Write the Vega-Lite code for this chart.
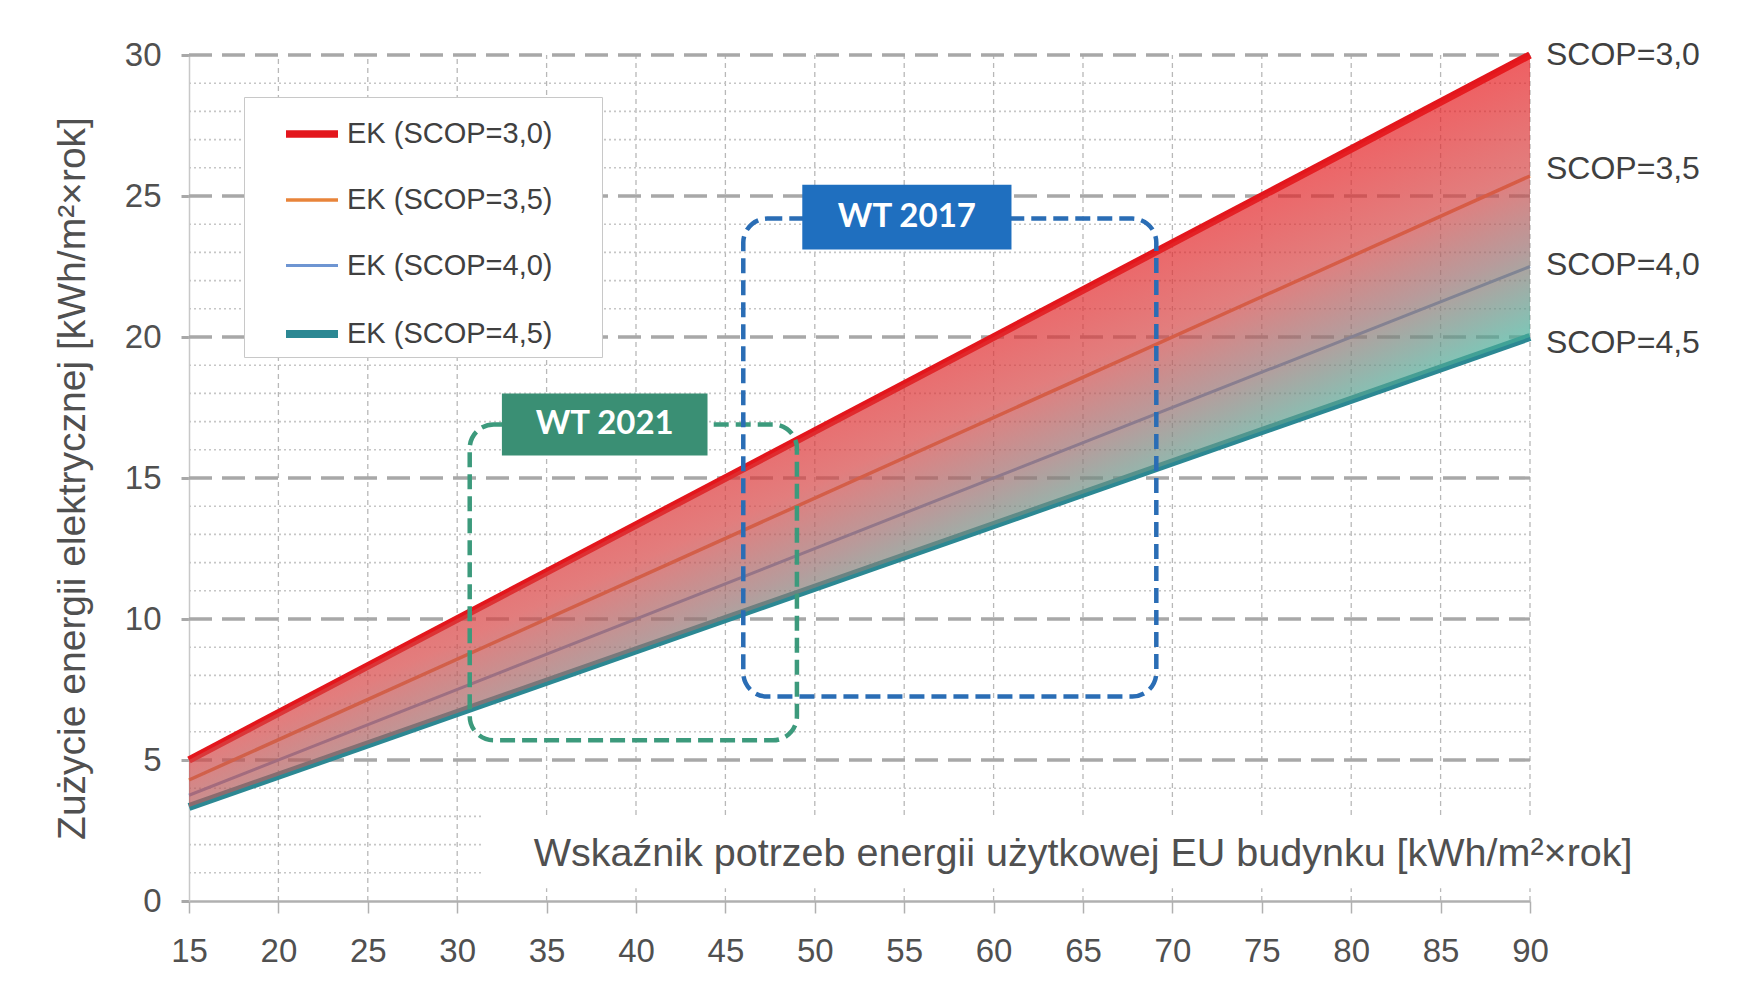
{
  "$schema": "https://vega.github.io/schema/vega-lite/v6.json",
  "width": 1341,
  "height": 846,
  "autosize": {"type": "none"},
  "padding": {"left": 189, "top": 55, "right": 230, "bottom": 89},
  "background": "white",
  "datasets": {
    "vgrid": [
      {"x": 20, "y1": 0, "y2": 30}, {"x": 25, "y1": 0, "y2": 30}, {"x": 30, "y1": 0, "y2": 30},
      {"x": 35, "y1": 3.05, "y2": 30}, {"x": 40, "y1": 3.05, "y2": 30}, {"x": 45, "y1": 3.05, "y2": 30},
      {"x": 50, "y1": 3.05, "y2": 30}, {"x": 55, "y1": 3.05, "y2": 30}, {"x": 60, "y1": 3.05, "y2": 30},
      {"x": 65, "y1": 3.05, "y2": 30}, {"x": 70, "y1": 3.05, "y2": 30}, {"x": 75, "y1": 3.05, "y2": 30},
      {"x": 80, "y1": 3.05, "y2": 30}, {"x": 85, "y1": 3.05, "y2": 30}, {"x": 90, "y1": 3.05, "y2": 30},
      {"x": 35, "y1": 0, "y2": 0.45}, {"x": 40, "y1": 0, "y2": 0.45}, {"x": 45, "y1": 0, "y2": 0.45},
      {"x": 50, "y1": 0, "y2": 0.45}, {"x": 55, "y1": 0, "y2": 0.45}, {"x": 60, "y1": 0, "y2": 0.45},
      {"x": 65, "y1": 0, "y2": 0.45}, {"x": 70, "y1": 0, "y2": 0.45}, {"x": 75, "y1": 0, "y2": 0.45},
      {"x": 80, "y1": 0, "y2": 0.45}, {"x": 85, "y1": 0, "y2": 0.45}, {"x": 90, "y1": 0, "y2": 0.45}
    ],
    "hminor": [
      {"y": 1, "x1": 15, "x2": 31.4}, {"y": 2, "x1": 15, "x2": 31.4}, {"y": 3, "x1": 15, "x2": 31.4},
      {"y": 4, "x1": 15, "x2": 90}, {"y": 6, "x1": 15, "x2": 90}, {"y": 7, "x1": 15, "x2": 90},
      {"y": 8, "x1": 15, "x2": 90}, {"y": 9, "x1": 15, "x2": 90}, {"y": 11, "x1": 15, "x2": 90},
      {"y": 12, "x1": 15, "x2": 90}, {"y": 13, "x1": 15, "x2": 90}, {"y": 14, "x1": 15, "x2": 90},
      {"y": 16, "x1": 15, "x2": 90}, {"y": 17, "x1": 15, "x2": 90}, {"y": 18, "x1": 15, "x2": 90},
      {"y": 19, "x1": 15, "x2": 90}, {"y": 21, "x1": 15, "x2": 90}, {"y": 22, "x1": 15, "x2": 90},
      {"y": 23, "x1": 15, "x2": 90}, {"y": 24, "x1": 15, "x2": 90}, {"y": 26, "x1": 15, "x2": 90},
      {"y": 27, "x1": 15, "x2": 90}, {"y": 28, "x1": 15, "x2": 90}, {"y": 29, "x1": 15, "x2": 90}
    ],
    "hmajor": [
      {"y": 5, "x1": 15, "x2": 90}, {"y": 10, "x1": 15, "x2": 90}, {"y": 15, "x1": 15, "x2": 90},
      {"y": 20, "x1": 15, "x2": 90}, {"y": 25, "x1": 15, "x2": 90}, {"y": 30, "x1": 15, "x2": 90}
    ],
    "lines": [
      {"series": "EK (SCOP=3,0)", "x": 15, "y": 5}, {"series": "EK (SCOP=3,0)", "x": 90, "y": 30},
      {"series": "EK (SCOP=3,5)", "x": 15, "y": 4.29}, {"series": "EK (SCOP=3,5)", "x": 90, "y": 25.71},
      {"series": "EK (SCOP=4,0)", "x": 15, "y": 3.75}, {"series": "EK (SCOP=4,0)", "x": 90, "y": 22.5},
      {"series": "EK (SCOP=4,5)", "x": 15, "y": 3.33}, {"series": "EK (SCOP=4,5)", "x": 90, "y": 20}
    ],
    "band": [
      {"x": 15, "top": 5, "bottom": 3.33},
      {"x": 90, "top": 30, "bottom": 20}
    ],
    "boxes": [
      {"name": "WT 2021", "x1": 30.7, "x2": 49.0, "y1": 5.7, "y2": 16.9},
      {"name": "WT 2017", "x1": 46.0, "x2": 69.1, "y1": 7.25, "y2": 24.2}
    ],
    "tags": [
      {"name": "WT 2021", "x1": 32.5, "x2": 44.0, "y1": 15.8, "y2": 18.0, "xm": 38.25, "ym": 16.9},
      {"name": "WT 2017", "x1": 49.3, "x2": 61.0, "y1": 23.1, "y2": 25.4, "xm": 55.15, "ym": 24.25}
    ],
    "ends": [
      {"label": "SCOP=3,0", "x": 90, "y": 30},
      {"label": "SCOP=3,5", "x": 90, "y": 25.95},
      {"label": "SCOP=4,0", "x": 90, "y": 22.55},
      {"label": "SCOP=4,5", "x": 90, "y": 19.8}
    ]
  },
  "layer": [
    {
      "data": {"name": "vgrid"},
      "mark": {"type": "rule", "color": "#b8b8b8", "strokeWidth": 1.3, "strokeDash": [5, 4]},
      "encoding": {
        "x": {"field": "x", "type": "quantitative", "scale": {"domain": [15, 90], "nice": false, "zero": false}},
        "y": {"field": "y1", "type": "quantitative", "scale": {"domain": [0, 30], "nice": false}},
        "y2": {"field": "y2"}
      }
    },
    {
      "data": {"name": "hminor"},
      "mark": {"type": "rule", "color": "#c6c6c6", "strokeWidth": 1.6, "strokeDash": [2, 3]},
      "encoding": {
        "y": {"field": "y", "type": "quantitative", "scale": {"domain": [0, 30], "nice": false}},
        "x": {"field": "x1", "type": "quantitative", "scale": {"domain": [15, 90], "nice": false, "zero": false}},
        "x2": {"field": "x2"}
      }
    },
    {
      "data": {"name": "hmajor"},
      "mark": {"type": "rule", "color": "#a8a8a8", "strokeWidth": 3.3, "strokeDash": [23, 10]},
      "encoding": {
        "y": {"field": "y", "type": "quantitative", "scale": {"domain": [0, 30], "nice": false}},
        "x": {"field": "x1", "type": "quantitative", "scale": {"domain": [15, 90], "nice": false, "zero": false}},
        "x2": {"field": "x2"}
      }
    },
    {
      "data": {"name": "lines"},
      "mark": {"type": "line", "strokeCap": "butt"},
      "encoding": {
        "x": {
          "field": "x", "type": "quantitative",
          "scale": {"domain": [15, 90], "nice": false, "zero": false},
          "axis": {
            "title": "Wskaźnik potrzeb energii użytkowej EU budynku [kWh/m²×rok]",
            "values": [15, 20, 25, 30, 35, 40, 45, 50, 55, 60, 65, 70, 75, 80, 85, 90],
            "grid": false, "labelFlush": false,
            "domainColor": "#b0b0b0", "domainWidth": 2.5,
            "tickColor": "#b0b0b0", "tickWidth": 1.5, "tickSize": 12,
            "labelFontSize": 33, "labelColor": "#505050", "labelPadding": 22,
            "titleFontSize": 39.5, "titleFontWeight": "normal", "titleColor": "#505050",
            "titleAnchor": "end", "titleAlign": "right", "titleBaseline": "middle",
            "titleX": 1443, "titleY": -48
          }
        },
        "y": {
          "field": "y", "type": "quantitative",
          "scale": {"domain": [0, 30], "nice": false},
          "axis": {
            "title": "Zużycie energii elektrycznej [kWh/m²×rok]",
            "values": [0, 5, 10, 15, 20, 25, 30],
            "grid": false,
            "domainColor": "#c8c8c8", "domainWidth": 1.5,
            "tickColor": "#a8a8a8", "tickWidth": 3, "tickSize": 8,
            "labelFontSize": 33, "labelColor": "#505050", "labelPadding": 20,
            "titleFontSize": 39, "titleFontWeight": "normal", "titleColor": "#505050",
            "titleBaseline": "middle", "titleX": -117
          }
        },
        "color": {
          "field": "series", "type": "nominal",
          "scale": {
            "domain": ["EK (SCOP=3,0)", "EK (SCOP=3,5)", "EK (SCOP=4,0)", "EK (SCOP=4,5)"],
            "range": ["#e3161c", "#e8843a", "#6e95d2", "#2c8893"]
          },
          "legend": {
            "title": null,
            "orient": "none", "legendX": 55, "legendY": 42,
            "fillColor": "white", "strokeColor": "#c8c8c8", "padding": 7,
            "symbolType": "stroke", "symbolSize": 2704, "symbolOffset": 31,
            "labelOffset": 5, "labelFontSize": 29, "labelColor": "#404040", "labelLimit": 500,
            "rowPadding": 23,
            "labelExpr": "datum.label + '\u2800\u2800'"
          }
        },
        "strokeWidth": {
          "field": "series", "type": "ordinal",
          "scale": {
            "type": "ordinal",
            "domain": ["EK (SCOP=3,0)", "EK (SCOP=3,5)", "EK (SCOP=4,0)", "EK (SCOP=4,5)"],
            "range": [7.5, 3.5, 3, 8]
          },
          "legend": {
            "title": null,
            "orient": "none", "legendX": 55, "legendY": 42,
            "fillColor": "white", "strokeColor": "#c8c8c8", "padding": 7,
            "symbolType": "stroke", "symbolSize": 2704, "symbolOffset": 31,
            "labelOffset": 5, "labelFontSize": 29, "labelColor": "#404040", "labelLimit": 500,
            "rowPadding": 23,
            "labelExpr": "datum.label + '\u2800\u2800'"
          }
        }
      }
    },
    {
      "data": {"name": "band"},
      "mark": {
        "type": "area",
        "fillOpacity": 0.7,
        "color": {
          "gradient": "linear",
          "x1": 1, "y1": 0, "x2": 1.182, "y2": 0.231,
          "stops": [
            {"offset": 0, "color": "#e81c20"},
            {"offset": 0.4, "color": "#d64646"},
            {"offset": 0.68, "color": "#9a7070"},
            {"offset": 1, "color": "#45b09a"}
          ]
        }
      },
      "encoding": {
        "x": {"field": "x", "type": "quantitative", "scale": {"domain": [15, 90], "nice": false, "zero": false}},
        "y": {"field": "top", "type": "quantitative", "scale": {"domain": [0, 30], "nice": false}},
        "y2": {"field": "bottom"}
      }
    },
    {
      "data": {"name": "boxes"},
      "mark": {"type": "rect", "fillOpacity": 0, "strokeWidth": 4.5, "strokeDash": [15, 7], "cornerRadius": 24},
      "encoding": {
        "x": {"field": "x1", "type": "quantitative", "scale": {"domain": [15, 90], "nice": false, "zero": false}},
        "x2": {"field": "x2"},
        "y": {"field": "y1", "type": "quantitative", "scale": {"domain": [0, 30], "nice": false}},
        "y2": {"field": "y2"},
        "stroke": {
          "field": "name", "type": "nominal",
          "scale": {"domain": ["WT 2021", "WT 2017"], "range": ["#3c9a7c", "#2a6db5"]},
          "legend": null
        }
      }
    },
    {
      "data": {"name": "tags"},
      "mark": {"type": "rect"},
      "encoding": {
        "x": {"field": "x1", "type": "quantitative", "scale": {"domain": [15, 90], "nice": false, "zero": false}},
        "x2": {"field": "x2"},
        "y": {"field": "y1", "type": "quantitative", "scale": {"domain": [0, 30], "nice": false}},
        "y2": {"field": "y2"},
        "fill": {
          "field": "name", "type": "nominal",
          "scale": {"domain": ["WT 2021", "WT 2017"], "range": ["#3a8f74", "#1f6fbf"]},
          "legend": null
        }
      }
    },
    {
      "data": {"name": "tags"},
      "mark": {"type": "text", "font": "Lato", "fontWeight": "bold", "fontSize": 33, "color": "white", "align": "center", "baseline": "middle"},
      "encoding": {
        "x": {"field": "xm", "type": "quantitative", "scale": {"domain": [15, 90], "nice": false, "zero": false}},
        "y": {"field": "ym", "type": "quantitative", "scale": {"domain": [0, 30], "nice": false}},
        "text": {"field": "name"}
      }
    },
    {
      "data": {"name": "ends"},
      "mark": {"type": "text", "fontSize": 32, "color": "#404040", "align": "left", "baseline": "middle", "dx": 16},
      "encoding": {
        "x": {"field": "x", "type": "quantitative", "scale": {"domain": [15, 90], "nice": false, "zero": false}},
        "y": {"field": "y", "type": "quantitative", "scale": {"domain": [0, 30], "nice": false}},
        "text": {"field": "label"}
      }
    }
  ],
  "config": {
    "view": {"stroke": null},
    "font": "Liberation Sans",
    "axis": {"grid": false}
  }
}
